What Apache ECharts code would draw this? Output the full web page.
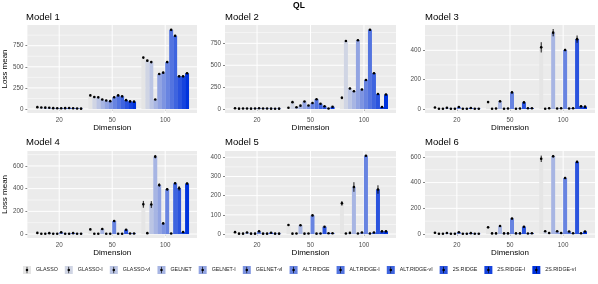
<!DOCTYPE html>
<html><head><meta charset="utf-8">
<script src="https://cdn.jsdelivr.net/npm/echarts@6/dist/echarts.min.js"></script>
<style>html,body{margin:0;padding:0;background:#fff}#c{width:598px;height:284px}</style>
</head><body><div id="c"></div>
<script>
// ---------------- data ----------------
const methods = ['GLASSO','GLASSO-I','GLASSO-vI','GELNET','GELNET-I','GELNET-vI','ALT.RIDGE','ALT.RIDGE-I','ALT.RIDGE-vI','2S.RIDGE','2S.RIDGE-I','2S.RIDGE-vI'];
const dimensions = ['20','50','100'];
const panelTitles = ['Model 1','Model 2','Model 3','Model 4','Model 5','Model 6'];

// means: one row per dimension (20, 50, 100), one value per method
const model1Mean = [
  [22, 17, 16, 14, 10, 9, 9, 10, 11, 9, 6, 4],
  [161, 143, 138, 112, 100, 93, 140, 161, 150, 105, 90, 87],
  [609, 573, 556, 113, 415, 431, 556, 938, 867, 387, 387, 423]
];
const model1Se = [
  [3, 2, 2, 2, 2, 2, 2, 2, 2, 2, 2, 2],
  [5, 4, 4, 4, 4, 4, 4, 5, 5, 4, 4, 4],
  [9, 8, 8, 5, 9, 9, 8, 10, 11, 7, 7, 8]
];
const model2Mean = [
  [8, 4, 5, 5, 4, 6, 8, 5, 5, 4, 3, 4],
  [15, 78, 20, 38, 85, 40, 68, 112, 60, 32, 5, 25],
  [128, 777, 235, 203, 785, 223, 332, 906, 408, 172, 23, 166]
];
const model2Se = [
  [2, 1, 1, 1, 1, 1, 2, 1, 1, 1, 1, 1],
  [3, 6, 3, 4, 6, 4, 5, 6, 5, 4, 2, 8],
  [16, 8, 10, 8, 8, 8, 8, 8, 8, 8, 5, 8]
];
const model3Mean = [
  [10, 2, 2, 8, 2, 2, 14, 2, 2, 7, 2, 2],
  [47, 2, 3, 52, 2, 3, 113, 2, 3, 45, 5, 5],
  [420, 2, 5, 520, 3, 5, 402, 3, 5, 476, 18, 16]
];
const model3Se = [
  [2, 1, 1, 2, 1, 1, 2, 1, 1, 2, 1, 1],
  [3, 1, 1, 3, 1, 1, 4, 1, 1, 4, 1, 1],
  [35, 1, 1, 25, 1, 1, 8, 1, 1, 25, 3, 3]
];
const model4Mean = [
  [10, 2, 2, 8, 2, 2, 15, 2, 2, 8, 2, 2],
  [41, 2, 3, 44, 2, 3, 115, 2, 3, 38, 5, 5],
  [262, 8, 260, 682, 432, 94, 394, 5, 447, 403, 18, 445]
];
const model4Se = [
  [2, 1, 1, 2, 1, 1, 2, 1, 1, 2, 1, 1],
  [3, 1, 1, 4, 1, 1, 4, 1, 1, 4, 1, 1],
  [30, 2, 30, 15, 15, 8, 10, 2, 8, 20, 4, 8]
];
const model5Mean = [
  [10, 2, 2, 8, 2, 2, 14, 2, 2, 7, 2, 2],
  [47, 2, 3, 46, 2, 3, 97, 2, 3, 38, 4, 4],
  [160, 3, 6, 245, 3, 8, 408, 3, 8, 232, 14, 14]
];
const model5Se = [
  [2, 1, 1, 2, 1, 1, 2, 1, 1, 2, 1, 1],
  [3, 1, 1, 3, 1, 1, 3, 1, 1, 3, 1, 1],
  [12, 1, 2, 25, 1, 2, 4, 1, 2, 22, 2, 2]
];
const model6Mean = [
  [10, 2, 2, 8, 2, 2, 14, 2, 2, 7, 2, 2],
  [52, 5, 5, 62, 5, 5, 120, 5, 5, 57, 4, 6],
  [585, 22, 8, 605, 22, 8, 436, 20, 6, 561, 6, 20]
];
const model6Se = [
  [2, 1, 1, 2, 1, 1, 2, 1, 1, 2, 1, 1],
  [3, 1, 1, 4, 1, 1, 4, 1, 1, 4, 1, 1],
  [25, 3, 2, 10, 3, 2, 8, 3, 2, 8, 2, 3]
];

const yMajorTicks = [
  [0, 250, 500, 750],
  [0, 250, 500, 750],
  [0, 200, 400],
  [0, 200, 400, 600],
  [0, 100, 200, 300, 400],
  [0, 200, 400, 600]
];
const yMinorTicks = [
  [125, 375, 625, 875],
  [125, 375, 625, 875],
  [100, 300, 500],
  [100, 300, 500, 700],
  [50, 150, 250, 350],
  [100, 300, 500]
];

// ---------------- styles / layout ----------------
const colors = ['#E5E5E5','#D0D5E4','#BBC5E4','#A7B5E3','#92A4E2','#7D94E1','#6884E1','#5374E0','#3E64DF','#2A53DE','#1543DE','#0033DD'];
const FONT = 'Liberation Sans, Arial, Helvetica, sans-serif';
const colLeft = [26, 225, 425];
const colWidth = [171, 171, 170];
const rowTop = [25, 151];
const rowHeight = [88, 87];
const titleTop = [12, 137];

const means = [model1Mean, model2Mean, model3Mean, model4Mean, model5Mean, model6Mean];
const ses = [model1Se, model2Se, model3Se, model4Se, model5Se, model6Se];

const dodgeWidth = 0.9;
const slot = dodgeWidth / methods.length;

const grids = [], xAxes = [], yAxes = [], series = [], titles = [];
titles.push({text: 'QL', left: 'center', top: 1.5, padding: 0,
  textStyle: {fontSize: 8.5, fontWeight: 'bold', color: '#000', fontFamily: FONT}});

for (let p = 0; p < 6; p++) {
  const r = Math.floor(p / 3), c = p % 3;
  grids.push({left: colLeft[c], top: rowTop[r], width: colWidth[c], height: rowHeight[r],
    show: true, backgroundColor: '#EBEBEB', borderWidth: 0, containLabel: false});
  titles.push({text: panelTitles[p], left: colLeft[c], top: titleTop[r], padding: 0,
    textStyle: {fontSize: 9.5, fontWeight: 'normal', color: '#000', fontFamily: FONT}});
  // top of data (mean + se) for ggplot-like 5% expansion
  let T = 0;
  means[p].forEach((row, d) => row.forEach((v, m) => { T = Math.max(T, v + ses[p][d][m]); }));
  xAxes.push({
    gridIndex: p, type: 'value', min: 0.4, max: 3.6,
    axisLine: {show: false},
    axisTick: {show: true, length: 2, customValues: [1, 2, 3], lineStyle: {color: '#333', width: 0.6}},
    axisLabel: {show: true, customValues: [1, 2, 3], formatter: v => dimensions[Math.round(v) - 1],
      fontSize: 6.3, color: '#4D4D4D', margin: 4, fontFamily: FONT},
    splitLine: {show: false},
    name: 'Dimension', nameLocation: 'middle', nameGap: 10,
    nameTextStyle: {fontSize: 8, color: '#000', fontFamily: FONT}
  });
  yAxes.push({
    gridIndex: p, type: 'value', min: -0.05 * T, max: 1.05 * T,
    axisLine: {show: false},
    axisTick: {show: true, length: 2, customValues: yMajorTicks[p], lineStyle: {color: '#333', width: 0.6}},
    axisLabel: {show: true, customValues: yMajorTicks[p], fontSize: 6.3, color: '#4D4D4D', margin: 4, fontFamily: FONT},
    splitLine: {show: false},
    name: c === 0 ? 'Loss mean' : '', nameLocation: 'middle', nameGap: 14,
    nameTextStyle: {fontSize: 8, color: '#000', fontFamily: FONT}
  });
  // grid lines (white) through the axis scales
  const lines = [];
  yMajorTicks[p].forEach(v => lines.push([0, v]));
  yMinorTicks[p].forEach(v => lines.push([1, v]));
  [1, 2, 3].forEach(v => lines.push([2, v]));
  series.push({
    type: 'custom', xAxisIndex: p, yAxisIndex: p, z: 1, silent: true, data: lines,
    encode: {x: -1, y: -1},
    renderItem: (params, api) => {
      const kind = api.value(0), v = api.value(1);
      const cs = params.coordSys;
      if (kind === 2) {
        const x = api.coord([v, 0])[0];
        return {type: 'line', shape: {x1: x, y1: cs.y, x2: x, y2: cs.y + cs.height},
          style: {stroke: '#FFFFFF', lineWidth: 1}};
      }
      const y = api.coord([1, v])[1];
      return {type: 'line', shape: {x1: cs.x, y1: y, x2: cs.x + cs.width, y2: y},
        style: {stroke: '#FFFFFF', lineWidth: kind === 0 ? 1 : 0.5}};
    }
  });
  // bars + point ranges, one series per method
  methods.forEach((name, m) => {
    const data = dimensions.map((d, di) => [di + 1, means[p][di][m], ses[p][di][m]]);
    series.push({
      type: 'custom', name: name, xAxisIndex: p, yAxisIndex: p, z: 2, data: data,
      itemStyle: {color: colors[m]},
      encode: {x: 0, y: 1},
      renderItem: (params, api) => {
        const g = api.value(0), v = api.value(1), se = api.value(2);
        const xc = g + (m - (methods.length - 1) / 2) * slot;
        const a = api.coord([xc - slot / 2, v]);
        const b = api.coord([xc + slot / 2, 0]);
        const ctr = api.coord([xc, v]);
        const hi = api.coord([xc, v + se]);
        const lo = api.coord([xc, Math.max(v - se, 0)]);
        return {type: 'group', children: [
          {type: 'rect', shape: {x: a[0], y: a[1], width: b[0] - a[0], height: b[1] - a[1]},
            style: {fill: colors[m]}},
          {type: 'line', shape: {x1: ctr[0], y1: hi[1], x2: ctr[0], y2: lo[1]},
            style: {stroke: '#000', lineWidth: 0.9}},
          {type: 'circle', shape: {cx: ctr[0], cy: ctr[1], r: 1.3}, style: {fill: '#000'}}
        ]};
      }
    });
  });
}

const legendBase = {
  left: 23, top: 266, padding: 0, itemWidth: 8, itemHeight: 8, itemGap: 7,
  orient: 'horizontal', selectedMode: false, data: methods
};
const legends = [
  Object.assign({}, legendBase, {icon: 'rect',
    textStyle: {fontSize: 5.3, color: '#1A1A1A', fontFamily: FONT}}),
  Object.assign({}, legendBase, {
    // point-range glyph; tiny corner specks keep the icon box full size so layout matches legend 1
    icon: 'path://M0,0L0.02,0L0.02,0.02Z M9.98,9.98L10,9.98L10,10Z M4.6,1L5.4,1L5.4,3.4L4.6,3.4Z M6.6,5A1.6,1.6,0,1,1,3.4,5A1.6,1.6,0,1,1,6.6,5Z M4.6,6.6L5.4,6.6L5.4,9L4.6,9Z',
    itemStyle: {color: '#000'},
    textStyle: {fontSize: 5.3, color: 'rgba(0,0,0,0)', fontFamily: FONT}})
];

const chart = echarts.init(document.getElementById('c'), null, {renderer: 'canvas'});
chart.setOption({
  animation: false,
  backgroundColor: '#FFFFFF',
  textStyle: {fontFamily: FONT},
  title: titles,
  legend: legends,
  grid: grids,
  xAxis: xAxes,
  yAxis: yAxes,
  series: series
});
</script>
</body></html>
